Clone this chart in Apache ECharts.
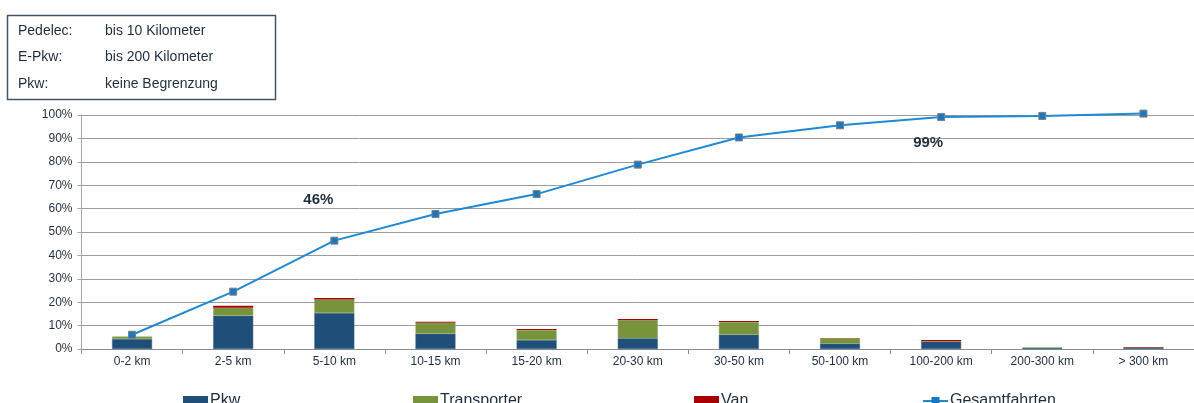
<!DOCTYPE html>
<html>
<head>
<meta charset="utf-8">
<style>
  html, body { margin: 0; padding: 0; background: #ffffff; }
  #chart { width: 1194px; height: 403px; }
</style>
<script src="https://cdn.jsdelivr.net/npm/echarts@6/dist/echarts.min.js"></script>
</head>
<body>
<div id="chart"></div>
<script>
// Distance classes of the trips
const categories = ['0-2 km', '2-5 km', '5-10 km', '10-15 km', '15-20 km', '20-30 km',
  '30-50 km', '50-100 km', '100-200 km', '200-300 km', '> 300 km'];

// Share of trips per vehicle type (percent)
const pkw         = [4.3, 14.2, 15.4, 6.5, 3.8, 4.6, 6.1, 2.3, 3.1, 0.5, 0.6];
const transporter = [1.0, 3.4, 5.8, 4.7, 4.3, 7.7, 5.4, 2.3, 0.2, 0.2, 0.05];
const van         = [0.05, 0.9, 0.6, 0.4, 0.4, 0.5, 0.5, 0.1, 0.5, 0.0, 0.2];

// Cumulative share of all trips (percent)
const gesamtfahrten = [6.1, 24.5, 46.3, 57.7, 66.2, 78.8, 90.4, 95.6, 99.1, 99.6, 100.6];

// Range limits shown in the info box
const rangeRows = [
  ['Pedelec:', 'bis 10 Kilometer'],
  ['E-Pkw:', 'bis 200 Kilometer'],
  ['Pkw:', 'keine Begrenzung']
];

const yTicks = [0, 10, 20, 30, 40, 50, 60, 70, 80, 90, 100];

const textColor = '#1e2e3e';
const fontFamily = '"Liberation Sans", Arial, sans-serif';

const chart = echarts.init(document.getElementById('chart'), null, { renderer: 'canvas' });

const boxGraphics = [{
  type: 'rect',
  shape: { x: 7.5, y: 15.5, width: 268, height: 84 },
  style: { fill: '#ffffff', stroke: '#44546a', lineWidth: 1.5 },
  z: 10
}];
rangeRows.forEach((row, i) => {
  const y = 31 + i * 26.5;
  boxGraphics.push({
    type: 'text', x: 18, y: y, z: 11,
    style: { text: row[0], font: '14px ' + fontFamily, fill: textColor, textVerticalAlign: 'middle' }
  });
  boxGraphics.push({
    type: 'text', x: 105, y: y, z: 11,
    style: { text: row[1], font: '14px ' + fontFamily, fill: textColor, textVerticalAlign: 'middle' }
  });
});

// Callout labels on two points of the cumulative line
const lineData = gesamtfahrten.map((v, i) => {
  if (i === 2) {
    return { value: v, label: { show: true, position: 'top', offset: [-16, -24] } };
  }
  if (i === 8) {
    return { value: v, label: { show: true, position: 'bottom', offset: [-13, 9] } };
  }
  return v;
});

const legendBase = {
  top: 393,
  itemWidth: 25,
  itemHeight: 10,
  itemGap: 4,
  itemStyle: { borderWidth: 0 },
  textStyle: { fontSize: 16, color: textColor, fontFamily: fontFamily, padding: [0, 0, 0, -3] },
  padding: 0
};

const option = {
  animation: false,
  backgroundColor: '#ffffff',
  textStyle: { fontFamily: fontFamily },
  grid: { left: 81.5, width: 1116.5, top: 115, bottom: 54, containLabel: false },
  graphic: boxGraphics,
  legend: [
    Object.assign({}, legendBase, { left: 183, data: [{ name: 'Pkw', icon: 'rect' }] }),
    Object.assign({}, legendBase, { left: 413, data: [{ name: 'Transporter', icon: 'rect' }] }),
    Object.assign({}, legendBase, { left: 694, data: [{ name: 'Van', icon: 'rect' }] }),
    Object.assign({}, legendBase, { left: 922, data: ['Gesamtfahrten'] })
  ],
  xAxis: {
    type: 'category',
    data: categories,
    boundaryGap: true,
    axisLine: { show: true, lineStyle: { color: '#8c8c8c', width: 1 } },
    axisTick: { show: true, alignWithLabel: false, length: 5, lineStyle: { color: '#8c8c8c' } },
    axisLabel: { color: textColor, fontSize: 12, margin: 7, interval: 0 },
    splitLine: { show: false }
  },
  yAxis: {
    type: 'value',
    min: 0,
    max: 100,
    interval: 10,
    axisLine: { show: true, lineStyle: { color: '#a6a6a6', width: 1 } },
    axisTick: { show: true, length: 4, lineStyle: { color: '#a6a6a6' } },
    axisLabel: {
      color: textColor, fontSize: 12, margin: 9,
      formatter: v => (yTicks.indexOf(v) >= 0 ? v + '%' : '')
    },
    splitLine: { show: true, lineStyle: { color: '#9c9c9c', width: 1 } }
  },
  series: [
    {
      name: 'Pkw', type: 'bar', stack: 'fahrten', data: pkw, barWidth: 40,
      itemStyle: { color: '#1f4e79', borderColor: '#3f6a94', borderWidth: 0.5 }
    },
    {
      name: 'Transporter', type: 'bar', stack: 'fahrten', data: transporter, barWidth: 40,
      itemStyle: { color: '#77933c', borderColor: '#93ab5c', borderWidth: 0.5 }
    },
    {
      name: 'Van', type: 'bar', stack: 'fahrten', data: van, barWidth: 40,
      itemStyle: { color: '#a80000' }
    },
    {
      name: 'Gesamtfahrten', type: 'line', data: lineData,
      clip: false,
      symbol: 'rect', symbolSize: 7,
      lineStyle: { color: '#1d8ad6', width: 2 },
      itemStyle: { color: '#1a78c2', borderColor: '#7f7f7f', borderWidth: 1 },
      label: {
        show: false,
        color: textColor, fontSize: 15, fontWeight: 'bold',
        formatter: p => Math.round(p.value) + '%'
      },
      z: 5
    }
  ]
};

chart.setOption(option);
</script>
</body>
</html>
